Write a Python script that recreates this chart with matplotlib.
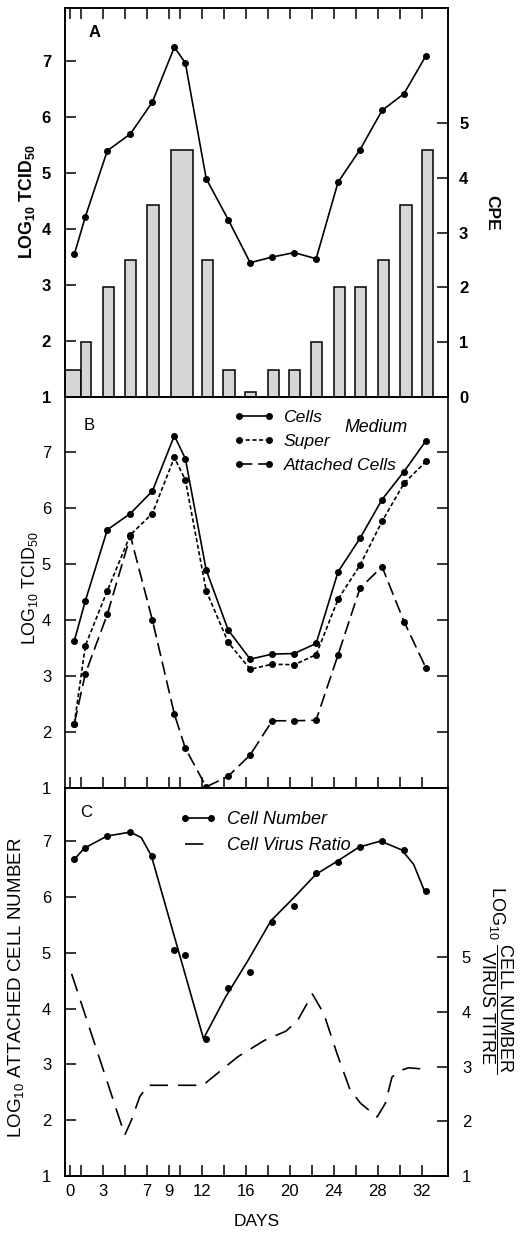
import matplotlib.pyplot as plt
from matplotlib.lines import Line2D

plt.rcParams['font.family'] = ['Liberation Sans', 'DejaVu Sans']
plt.rcParams['mathtext.fontset'] = 'custom'
plt.rcParams['mathtext.rm'] = 'Liberation Sans'
plt.rcParams['mathtext.it'] = 'Liberation Sans:italic'
plt.rcParams['mathtext.bf'] = 'Liberation Sans:bold'
plt.rcParams['axes.linewidth'] = 1.2

# sampling days (all three panels)
days = [0.4, 1.4, 3.4, 5.5, 7.5, 9.5, 10.5, 12.4, 14.4, 16.4, 18.4,
        20.4, 22.4, 24.4, 26.4, 28.4, 30.4, 32.4]
tick_days = [0, 1, 3, 5, 7, 9, 10, 12, 14, 16, 18, 20, 22, 24, 26, 28, 30, 32]
labelled_days = [0, 3, 7, 9, 12, 16, 20, 24, 28, 32]

# A: virus titre + CPE bars
titre_a = [3.55, 4.22, 5.40, 5.70, 6.27, 7.25, 6.97, 4.90, 4.17, 3.40, 3.50,
           3.58, 3.47, 4.84, 5.42, 6.12, 6.42, 7.10]
cpe_day = [0.28, 1.45, 3.5, 5.5, 7.55, 10.2, 12.5, 14.45, 16.4, 18.5, 20.4,
           22.4, 24.5, 26.45, 28.5, 30.55, 32.5]
cpe_width = [1.45, 0.9, 1.0, 1.0, 1.1, 2.0, 1.0, 1.05, 1.0, 1.0, 1.0,
             1.0, 1.0, 0.95, 1.0, 1.1, 1.0]
cpe = [0.5, 1, 2, 2.5, 3.5, 4.5, 2.5, 0.5, 0.1, 0.5, 0.5, 1, 2, 2, 2.5, 3.5, 4.5]

# B: cells / super medium / attached cells
cells = [3.63, 4.34, 5.61, 5.90, 6.30, 7.29, 6.88, 4.89, 3.82, 3.30, 3.39,
         3.40, 3.58, 4.86, 5.46, 6.15, 6.65, 7.20]
super_medium = [2.15, 3.54, 4.52, 5.52, 5.90, 6.90, 6.50, 4.52, 3.60, 3.12, 3.21,
                3.20, 3.38, 4.37, 4.98, 5.76, 6.44, 6.83]
attached = [2.15, 3.04, 4.10, 5.50, 4.00, 2.32, 1.71, 1.02, 1.21, 1.59, 2.20,
            2.20, 2.21, 3.38, 4.57, 4.95, 3.97, 3.14]

# C: attached cell number and cell/virus ratio
cell_number = [6.67, 6.88, 7.09, 7.16, 6.74, 5.05, 4.96, 3.46, 4.36, 4.65, 5.55,
               5.83, 6.42, 6.63, 6.90, 7.00, 6.84, 6.11]
curve_day = [0.39, 1.3, 3.38, 5.5, 6.5, 7.4, 12.15, 14.14, 16.2, 18.28, 20.34,
             22.36, 24.33, 26.3, 28.26, 30.2, 31.28, 32.25]
curve = [6.67, 6.87, 7.09, 7.16, 7.06, 6.74, 3.46, 4.20, 4.86, 5.57, 5.98,
         6.40, 6.64, 6.89, 7.00, 6.84, 6.58, 6.11]
ratio_day = [0.15, 4.99, 5.59, 6.35, 7.1, 12.09, 15.26, 17.68, 19.65, 20.7, 22.06,
             23.1, 24.3, 25.5, 26.45, 27.95, 28.7, 29.3, 30.07, 30.8, 32.03]
ratio = [4.70, 1.75, 2.02, 2.45, 2.66, 2.66, 3.18, 3.48, 3.65, 3.84, 4.33,
         3.97, 3.24, 2.57, 2.33, 2.08, 2.33, 2.81, 2.93, 2.98, 2.96]

fig = plt.figure(figsize=(5.2, 12.33), dpi=100)
L, W = 65 / 520, 383 / 520
H = 1233
axA = fig.add_axes([L, (H - 397) / H, W, 389 / H])
axB = fig.add_axes([L, (H - 788) / H, W, 391 / H])
axC = fig.add_axes([L, (H - 1176) / H, W, 388 / H])

FS = 12
mk = dict(marker='o', markersize=4, color='black', lw=1.2)

for ax in (axA, axB, axC):
    ax.set_xlim(-0.45, 34.4)
    ax.set_xticks(tick_days)
    ax.set_xticklabels([str(d) if d in labelled_days else '' for d in tick_days])
    ax.tick_params(direction='in', length=8, width=1.1, labelsize=FS)
    ax.tick_params(axis='y', pad=10)

# ---- panel A ----
axA2 = axA.twinx()
axA2.bar(cpe_day, cpe, width=cpe_width, color='#d6d6d6', edgecolor='black', linewidth=1.1)
axA2.set_ylim(0, 7.1)
axA2.set_yticks([0, 1, 2, 3, 4, 5])
axA2.tick_params(direction='in', length=8, width=1.1, labelsize=FS, pad=8)
for lab in axA2.get_yticklabels():
    lab.set_fontweight('bold')
axA.set_zorder(axA2.get_zorder() + 1)
axA.patch.set_visible(False)
axA.plot(days, titre_a, **mk)
axA.set_ylim(1, 7.95)
axA.set_yticks(range(1, 8))
axA.tick_params(axis='x', top=True, bottom=False, labelbottom=False)
for lab in axA.get_yticklabels():
    lab.set_fontweight('bold')
axA.text(0.078, 0.936, 'A', transform=axA.transAxes, fontsize=FS, fontweight='bold',
         ha='center', va='center')
fig.text(27 / 520, 1 - 202 / H, r'LOG$_{\mathbf{10}}$ TCID$_{\mathbf{50}}$', rotation=90,
         fontsize=12.8, fontweight='bold', ha='center', va='center')
fig.text(492 / 520, 1 - 213 / H, 'CPE', rotation=270, fontsize=12.5, fontweight='bold',
         ha='center', va='center')

# ---- panel B ----
axB.plot(days, cells, ls='-', **mk)
axB.plot(days, super_medium, ls=(0, (2.5, 1.5)), **mk)
axB.plot(days, attached, ls=(0, (8, 3.5)), **mk)
axB.set_ylim(1, 7.98)
axB.set_yticks(range(1, 8))
axB.tick_params(axis='y', right=True)
axB.tick_params(axis='x', labelbottom=False)
axB.text(0.0625, 0.928, 'B', transform=axB.transAxes, fontsize=FS, ha='center', va='center')
hB = [Line2D([], [], ls='-', **mk),
      Line2D([], [], ls=(0, (2.5, 1.5)), **mk),
      Line2D([], [], ls=(0, (8, 3.5)), **mk)]
axB.legend(hB, ['Cells', 'Super', 'Attached Cells'], numpoints=2, frameon=False,
           loc='upper left', bbox_to_anchor=(0.44, 0.968), borderaxespad=0, borderpad=0,
           handlelength=2.3, handletextpad=0.55, labelspacing=0.5,
           prop={'style': 'italic', 'size': 12.6})
axB.text(0.73, 0.923, 'Medium', transform=axB.transAxes, fontsize=12.8, style='italic',
         ha='left', va='center')
fig.text(30 / 520, 1 - 588 / H, r'LOG$_{\mathrm{10}}$ TCID$_{\mathrm{50}}$', rotation=90,
         fontsize=12.8, ha='center', va='center')

# ---- panel C ----
axC2 = axC.twinx()
axC2.plot(ratio_day, ratio, color='black', lw=1.2, ls=(0, (11, 6)))
axC2.set_ylim(1, 8.1)
axC2.set_yticks([1, 2, 3, 4, 5])
axC2.tick_params(direction='in', length=8, width=1.1, labelsize=FS, pad=10)
axC.plot(curve_day, curve, color='black', lw=1.2)
axC.plot(days, cell_number, 'o', color='black', markersize=4)
axC.set_ylim(1, 7.95)
axC.set_yticks(range(1, 8))
axC.tick_params(axis='x', pad=6)
axC.text(0.055, 0.936, 'C', transform=axC.transAxes, fontsize=FS, ha='center', va='center')
hC = [Line2D([], [], ls='-', **mk),
      Line2D([], [], ls=(0, (11, 6)), color='black', lw=1.2)]
axC.legend(hC, ['Cell Number', 'Cell Virus Ratio'], numpoints=2, frameon=False,
           loc='upper left', bbox_to_anchor=(0.30, 0.94), borderaxespad=0, borderpad=0,
           handlelength=2.0, handletextpad=0.6, labelspacing=0.5,
           prop={'style': 'italic', 'size': 13})
fig.text(16 / 520, 1 - 988 / H, r'LOG$_{\mathrm{10}}$ ATTACHED CELL NUMBER', rotation=90,
         fontsize=13.5, ha='center', va='center')
fig.text(497 / 520, 1 - 980 / H,
         r'LOG$_{\mathrm{10}}\ \dfrac{\mathrm{CELL\ NUMBER}}{\mathrm{VIRUS\ TITRE}}$',
         rotation=270, fontsize=13, ha='center', va='center')
fig.text(257 / 520, 1 - 1221 / H, 'DAYS', fontsize=12.5, ha='center', va='center')

fig.savefig('out.png', dpi=100)
